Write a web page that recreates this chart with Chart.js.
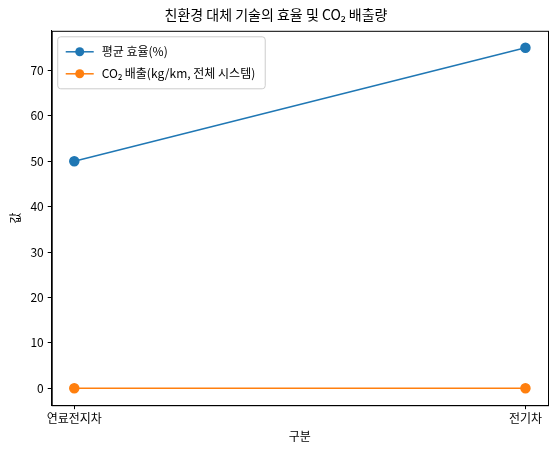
<!DOCTYPE html>
<html>
<head>
<meta charset="utf-8">
<script src="https://cdn.jsdelivr.net/npm/chart.js@4"></script>
<style>
  body { margin: 0; background: #fff; }
  #wrap { width: 560px; height: 454px; }
</style>
</head>
<body>
<div id="wrap"><canvas id="c" width="560" height="454"></canvas></div>
<script>
const categories = ['연료전지차', '전기차'];
const efficiency = [50, 75];
const co2 = [0, 0];
const yTicks = [0, 10, 20, 30, 40, 50, 60, 70];

const FONT = "'Noto Sans CJK KR', 'Noto Sans', sans-serif";
Chart.defaults.font.family = FONT;
Chart.defaults.color = '#000';

function pts(arr) {
    return arr.map(function(v, i) { return { x: i, y: v }; });
}

// frame around the plot and a matplotlib-like legend inside it
const framePlugin = {
    id: 'frame',
    afterDraw: function(chart) {
        const ctx = chart.ctx, a = chart.chartArea;
        ctx.save();
        ctx.strokeStyle = '#000';
        ctx.lineWidth = 1;
        ctx.strokeRect(a.left + 0.5, a.top + 0.5, a.right - a.left, a.bottom - a.top);

        ctx.font = '12px ' + FONT;
        const items = chart.data.datasets;
        let w = 0;
        items.forEach(function(ds) { w = Math.max(w, ctx.measureText(ds.label).width); });
        const x0 = a.left + 6, y0 = a.top + 6, rowH = 22;
        const bw = w + 54, bh = items.length * rowH + 8;
        ctx.fillStyle = 'rgba(255,255,255,0.8)';
        ctx.strokeStyle = '#ccc';
        ctx.beginPath();
        ctx.roundRect(x0, y0, bw, bh, 3);
        ctx.fill();
        ctx.stroke();
        items.forEach(function(ds, i) {
            const cy = y0 + 15 + i * rowH;
            ctx.strokeStyle = ds.borderColor;
            ctx.lineWidth = 1.5;
            ctx.beginPath();
            ctx.moveTo(x0 + 8, cy);
            ctx.lineTo(x0 + 36, cy);
            ctx.stroke();
            ctx.fillStyle = ds.borderColor;
            ctx.beginPath();
            ctx.arc(x0 + 22, cy, 4.5, 0, Math.PI * 2);
            ctx.fill();
            ctx.fillStyle = '#000';
            ctx.textBaseline = 'middle';
            ctx.fillText(ds.label, x0 + 44, cy);
        });
        ctx.restore();
    }
};

new Chart(document.getElementById('c').getContext('2d'), {
    type: 'line',
    data: {
        datasets: [{
            label: '평균 효율(%)',
            data: pts(efficiency),
            borderColor: '#1f77b4',
            backgroundColor: '#1f77b4',
            borderWidth: 1.5,
            pointRadius: 4.5,
            pointHoverRadius: 4.5
        }, {
            label: 'CO₂ 배출(kg/km, 전체 시스템)',
            data: pts(co2),
            borderColor: '#ff7f0e',
            backgroundColor: '#ff7f0e',
            borderWidth: 1.5,
            pointRadius: 4.5,
            pointHoverRadius: 4.5
        }]
    },
    options: {
        responsive: false,
        animation: false,
        layout: { padding: { left: 4, right: 12, top: 4, bottom: 6 } },
        plugins: {
            title: {
                display: true,
                text: '친환경 대체 기술의 효율 및 CO₂ 배출량',
                font: { size: 14, weight: 'normal' },
                padding: { top: 2, bottom: 8 }
            },
            legend: { display: false },
            tooltip: { enabled: false }
        },
        scales: {
            x: {
                type: 'linear',
                min: -0.05,
                max: 1.05,
                grid: { drawOnChartArea: false, color: '#000', tickLength: 4 },
                border: { color: '#000' },
                afterBuildTicks: function(axis) {
                    axis.ticks = categories.map(function(c, i) { return { value: i }; });
                },
                ticks: {
                    font: { size: 12 },
                    padding: 2,
                    callback: function(v) { return categories[v]; }
                },
                title: { display: true, text: '구분', font: { size: 12 }, padding: { top: 2 } }
            },
            y: {
                min: -3.75,
                max: 78.75,
                grid: { drawOnChartArea: false, color: '#000', tickLength: 4 },
                border: { color: '#000' },
                afterBuildTicks: function(axis) {
                    axis.ticks = yTicks.map(function(v) { return { value: v }; });
                },
                ticks: { font: { size: 12 }, padding: 4 },
                title: { display: true, text: '값', font: { size: 12 } }
            }
        }
    },
    plugins: [framePlugin]
});
</script>
</body>
</html>
